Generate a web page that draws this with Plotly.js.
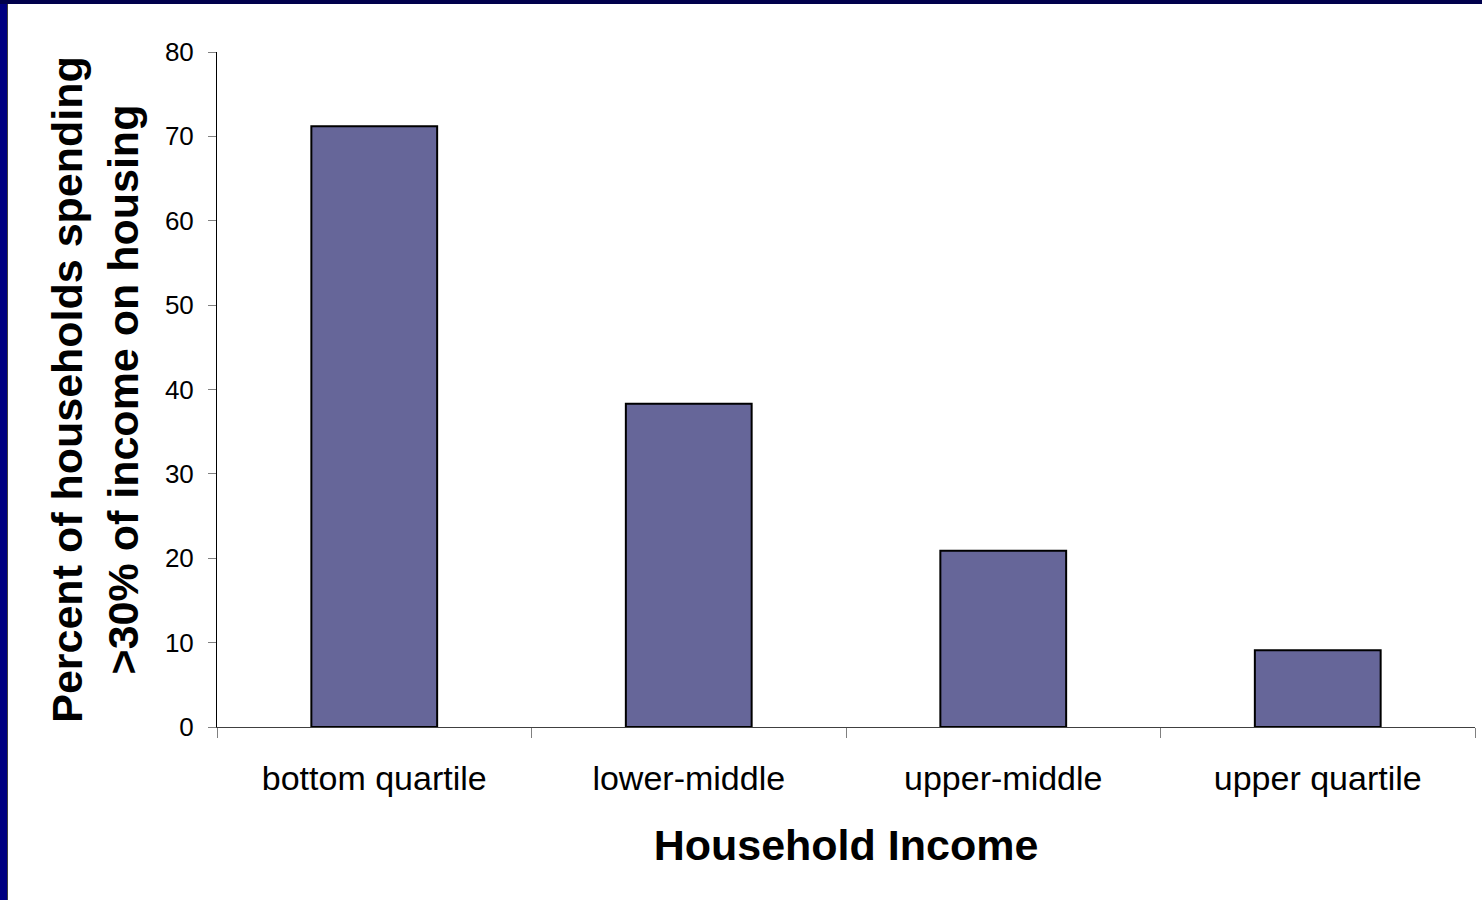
<!DOCTYPE html>
<html>
<head>
<meta charset="utf-8">
<script src="https://cdn.plot.ly/plotly-3.0.1.min.js"></script>
<style>
  html, body { margin: 0; padding: 0; width: 1482px; height: 900px; overflow: hidden; background: #000080; }
  #topbar { position: absolute; left: 0; top: 0; width: 1482px; height: 4px; background: #00004c; }
  #chart { position: absolute; left: 7px; top: 4px; width: 1475px; height: 896px; background: #fff; border-left: 1px solid #404040; box-sizing: border-box; }
</style>
</head>
<body>
<div id="topbar"></div>
<div id="chart"></div>
<script>
const categories = ["bottom quartile", "lower-middle", "upper-middle", "upper quartile"];
const percentSpending = [71.2, 38.3, 20.9, 9.1];
const yTickValues = [0, 10, 20, 30, 40, 50, 60, 70, 80];

const trace = {
  type: "bar",
  x: categories,
  y: percentSpending,
  width: 0.4,
  marker: { color: "#666699", line: { color: "#000000", width: 2 } },
  hoverinfo: "x+y"
};

const layout = {
  width: 1475,
  height: 896,
  margin: { l: 209, r: 8, t: 48, b: 173 },
  paper_bgcolor: "#ffffff",
  plot_bgcolor: "#ffffff",
  showlegend: false,
  font: { family: "Liberation Sans, Arial, sans-serif", color: "#000" },
  xaxis: {
    type: "category",
    range: [-0.5, 3.5],
    tickson: "boundaries",
    ticks: "outside",
    ticklen: 10,
    tickcolor: "#808080",
    tickwidth: 1,
    showline: true,
    linecolor: "#404040",
    linewidth: 1,
    showgrid: false,
    zeroline: false,
    tickfont: { size: 34, family: "Liberation Sans, Arial, sans-serif", color: "#000" },
    ticklabelstandoff: 21,
    title: {
      text: "<b>Household Income</b>",
      font: { size: 43, family: "Liberation Sans, Arial, sans-serif", color: "#000" },
      standoff: 34
    },
    fixedrange: true
  },
  yaxis: {
    range: [0, 80],
    tickvals: yTickValues,
    ticks: "outside",
    ticklen: 8,
    tickcolor: "#808080",
    tickwidth: 1,
    showline: true,
    linecolor: "#000000",
    linewidth: 1,
    showgrid: false,
    zeroline: false,
    tickfont: { size: 26, family: "Liberation Sans, Arial, sans-serif", color: "#000" },
    ticklabelstandoff: 9,
    title: {
      text: "<b>Percent of households spending<br>>30% of income on housing</b>",
      font: { size: 43, family: "Liberation Sans, Arial, sans-serif", color: "#000" },
      standoff: 12
    },
    fixedrange: true
  },
  bargap: 0.6
};

Plotly.newPlot("chart", [trace], layout, { displayModeBar: false, staticPlot: true });
</script>
</body>
</html>
